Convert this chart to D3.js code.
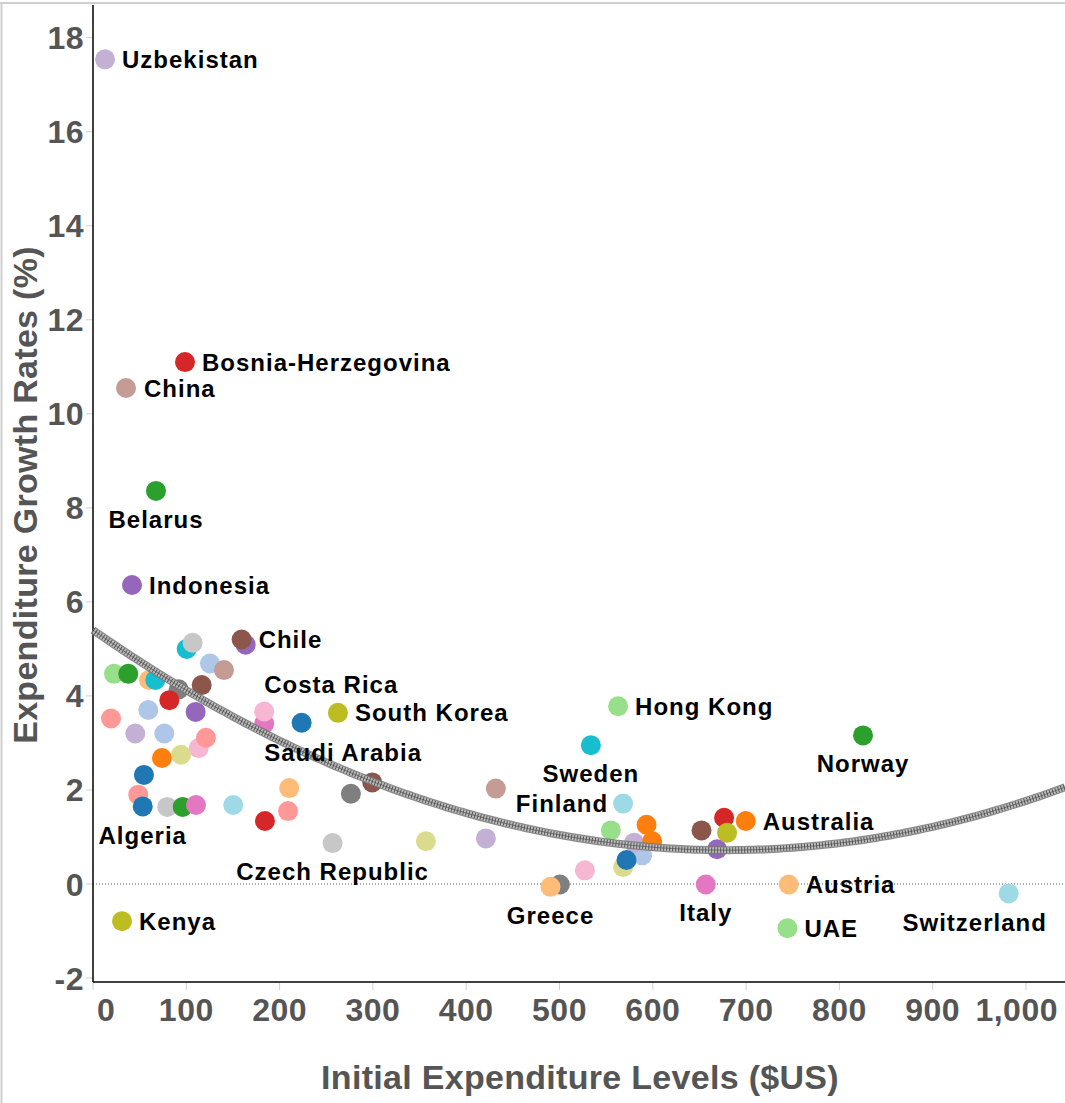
<!DOCTYPE html>
<html>
<head>
<meta charset="utf-8">
<script src="https://cdn.jsdelivr.net/npm/d3@7"></script>
<style>
  body { margin: 0; background: #fff; }
  text { font-family: 'Liberation Sans', Arial, sans-serif; font-weight: bold; }
</style>
</head>
<body>
<div id="chart"></div>
<script>
// Tableau 20 palette, indexed by colorIdx below
const palette = ['#1f77b4', '#aec7e8', '#ff7f0e', '#ffbb78', '#2ca02c', '#98df8a', '#d62728', '#ff9896',
  '#9467bd', '#c5b0d5', '#8c564b', '#c49c94', '#e377c2', '#f7b6d2', '#7f7f7f', '#c7c7c7',
  '#bcbd22', '#dbdb8d', '#17becf', '#9edae5'];

// one entry per country (drawing order), '' where the chart shows no label
const countries = ['Uzbekistan', 'Bosnia-Herzegovina', 'China', 'Belarus', 'Indonesia', '', 'Chile', '', '', '',
  '', '', '', '', '', '', '', '', '', '',
  '', '', '', '', '', '', '', '', '', 'Algeria',
  '', '', '', '', '', '', '', 'Saudi Arabia', 'Costa Rica', '',
  'South Korea', 'Czech Republic', '', '', '', '', '', 'Hong Kong', 'Sweden', 'Finland',
  '', '', '', '', '', '', '', '', '', 'Greece',
  '', '', '', '', 'Australia', 'Italy', 'Austria', 'UAE', 'Norway', 'Switzerland',
  'Kenya'];

const initialLevels = [12.9, 98.6, 35.4, 67.5, 41.8, 163.6, 159.3, 100.4, 106.8, 125.4,
  140.4, 22.5, 37.8, 60, 66.8, 91.8, 116.5, 81.8, 19.3, 59.3,
  110, 45.3, 76.4, 113.3, 121.1, 73.9, 94.3, 54.6, 48.5, 53.3,
  79.6, 96.1, 110.4, 150.3, 210.3, 209, 184.3, 183.5, 183.5, 223.6,
  262.5, 256.8, 276.4, 299.3, 356.8, 421.1, 431.8, 562.8, 533.6, 568.2,
  555, 588.6, 580, 593.3, 599.3, 568.2, 571.8, 527.2, 500.4, 490.4,
  652.2, 668.9, 676.4, 679.6, 699.6, 656.8, 745.7, 744.3, 825.3, 981.4,
  31.1];

const growthRates = [17.54, 11.1, 10.55, 8.36, 6.36, 5.09, 5.2, 5.0, 5.13, 4.69,
  4.55, 4.47, 4.47, 4.34, 4.34, 4.14, 4.23, 3.91, 3.52, 3.7,
  3.66, 3.2, 3.2, 2.89, 3.11, 2.68, 2.75, 2.32, 1.9, 1.65,
  1.64, 1.64, 1.68, 1.68, 2.04, 1.55, 1.34, 3.41, 3.67, 3.43,
  3.64, 0.87, 1.92, 2.16, 0.91, 0.97, 2.03, 3.78, 2.95, 1.71,
  1.14, 0.61, 0.88, 1.26, 0.91, 0.36, 0.51, 0.29, -0.01, -0.06,
  1.14, 0.74, 1.41, 1.09, 1.34, -0.01, -0.01, -0.94, 3.16, -0.2,
  -0.79];

const colorIdx = [9, 6, 11, 4, 8, 8, 10, 18, 15, 1,
  11, 5, 4, 3, 18, 14, 10, 6, 7, 1,
  8, 9, 1, 13, 7, 2, 17, 0, 7, 0,
  15, 4, 12, 19, 3, 7, 6, 12, 13, 0,
  16, 15, 14, 10, 17, 9, 11, 5, 18, 19,
  5, 1, 9, 2, 2, 17, 0, 13, 14, 3,
  10, 8, 6, 16, 2, 12, 3, 5, 4, 19,
  16];

// quadratic trend: y = c0 + c1*x + c2*x^2
const trendCoef = [5.40, -0.013789, 1.0157e-5];

const xTicks = [0, 100, 200, 300, 400, 500, 600, 700, 800, 900, 1000];
const yTicks = [-2, 0, 2, 4, 6, 8, 10, 12, 14, 16, 18];

// label placement: [dx, dy, anchor]
const labelPos = {
  'Uzbekistan': [17, 0, 'start'], 'Bosnia-Herzegovina': [17, 0, 'start'], 'China': [18, 0, 'start'],
  'Belarus': [0, 28, 'middle'], 'Indonesia': [17, 0, 'start'], 'Chile': [17, 0, 'start'],
  'Hong Kong': [17, 0, 'start'], 'Norway': [0, 28, 'middle'], 'South Korea': [17, 0, 'start'],
  'Costa Rica': [0, -27, 'start'], 'Saudi Arabia': [0, 29, 'start'], 'Sweden': [0, 28, 'middle'],
  'Finland': [-15, 0, 'end'], 'Australia': [17, 0, 'start'], 'Austria': [17, 0, 'start'],
  'UAE': [17, 0, 'start'], 'Switzerland': [-34, 29, 'middle'], 'Italy': [0, 28, 'middle'],
  'Greece': [0, 29, 'middle'], 'Kenya': [17, 0, 'start'], 'Algeria': [0, 29, 'middle'],
  'Czech Republic': [0, 28, 'middle']
};

const W = 1065, H = 1103;
const plot = { left: 93, right: 1065, top: 5, bottom: 982 };

const svg = d3.select('#chart').append('svg')
  .attr('width', W)
  .attr('height', H);

const x = d3.scaleLinear().domain([0, 1000]).range([93, 1026]);
const y = d3.scaleLinear().domain([0, 18]).range([884, 37.7]);

const data = countries.map((c, i) => ({
  name: c, x: initialLevels[i], y: growthRates[i], color: palette[colorIdx[i]]
}));

// outer frame
svg.append('line').attr('x1', 0).attr('x2', W).attr('y1', 3).attr('y2', 3)
  .attr('stroke', '#cfcfcf').attr('stroke-width', 2);
svg.append('line').attr('x1', 1.5).attr('x2', 1.5).attr('y1', 3).attr('y2', H)
  .attr('stroke', '#cfcfcf').attr('stroke-width', 2);

// ticks
svg.append('g').selectAll('line').data(yTicks).join('line')
  .attr('x1', 86).attr('x2', plot.left)
  .attr('y1', d => y(d)).attr('y2', d => y(d))
  .attr('stroke', '#d0d0d0');
svg.append('g').selectAll('text').data(yTicks).join('text')
  .attr('x', 84).attr('y', d => y(d)).attr('dy', '0.36em')
  .attr('text-anchor', 'end')
  .attr('fill', '#555').style('font-size', '32px').style('letter-spacing', '0.5px')
  .text(d => d);

svg.append('g').selectAll('line').data(xTicks).join('line')
  .attr('x1', d => x(d)).attr('x2', d => x(d))
  .attr('y1', plot.bottom).attr('y2', plot.bottom + 8)
  .attr('stroke', '#d0d0d0');
// first and last labels are nudged inside the plot, as the original does
const nLast = xTicks.length - 1;
svg.append('g').selectAll('text').data(xTicks).join('text')
  .attr('x', (d, i) => i === 0 ? x(d) + 4 : i === nLast ? 1058 : x(d))
  .attr('y', 1021)
  .attr('text-anchor', (d, i) => i === 0 ? 'start' : i === nLast ? 'end' : 'middle')
  .attr('fill', '#555').style('font-size', '32px').style('letter-spacing', '0.5px')
  .text(d => d3.format(',')(d));

// zero reference line
svg.append('line')
  .attr('x1', plot.left).attr('x2', plot.right)
  .attr('y1', y(0)).attr('y2', y(0))
  .attr('stroke', '#555').attr('stroke-width', 1).attr('stroke-dasharray', '1,2');

// axis lines
svg.append('line').attr('x1', plot.left).attr('x2', plot.left)
  .attr('y1', plot.top).attr('y2', plot.bottom).attr('stroke', '#000').attr('stroke-width', 1.5);
svg.append('line').attr('x1', plot.left).attr('x2', plot.right)
  .attr('y1', plot.bottom).attr('y2', plot.bottom).attr('stroke', '#000').attr('stroke-width', 1.5);

// points
svg.append('g').selectAll('circle').data(data).join('circle')
  .attr('cx', d => x(d.x))
  .attr('cy', d => y(d.y))
  .attr('r', 10)
  .attr('fill', d => d.color);

// trend line with hatched look
const xMax = x.invert(plot.right);
const trendPts = d3.range(0, 201).map(i => {
  const v = xMax * i / 200;
  return [v, trendCoef[0] + trendCoef[1] * v + trendCoef[2] * v * v];
});
const line = d3.line().x(d => x(d[0])).y(d => y(d[1]));

const trend = svg.append('g');
trend.append('path').attr('d', line(trendPts))
  .attr('fill', 'none').attr('stroke', '#777').attr('stroke-width', 8).attr('opacity', 0.85);
trend.append('path').attr('d', line(trendPts))
  .attr('fill', 'none').attr('stroke', '#bdbdbd').attr('stroke-width', 5.5);
trend.append('path').attr('d', line(trendPts))
  .attr('fill', 'none').attr('stroke', '#555').attr('stroke-width', 5.5)
  .attr('stroke-dasharray', '1,2');
trend.append('path').attr('d', line(trendPts))
  .attr('fill', 'none').attr('stroke', '#444').attr('stroke-width', 1).attr('opacity', 0.6);

// country labels
svg.append('g').selectAll('text').data(data.filter(d => d.name)).join('text')
  .attr('x', d => x(d.x) + labelPos[d.name][0])
  .attr('y', d => y(d.y) + labelPos[d.name][1])
  .attr('dy', '0.36em')
  .attr('text-anchor', d => labelPos[d.name][2])
  .attr('fill', '#000').style('font-size', '24px').style('letter-spacing', '1px')
  .text(d => d.name);

// axis titles
svg.append('text')
  .attr('x', 580).attr('y', 1089)
  .attr('text-anchor', 'middle')
  .attr('fill', '#555').style('font-size', '34px').style('letter-spacing', '0.3px')
  .text('Initial Expenditure Levels ($US)');

svg.append('text')
  .attr('transform', 'translate(37,495) rotate(-90)')
  .attr('text-anchor', 'middle')
  .attr('fill', '#555').style('font-size', '34px').style('letter-spacing', '0.3px')
  .text('Expenditure Growth Rates (%)');
</script>
</body>
</html>
